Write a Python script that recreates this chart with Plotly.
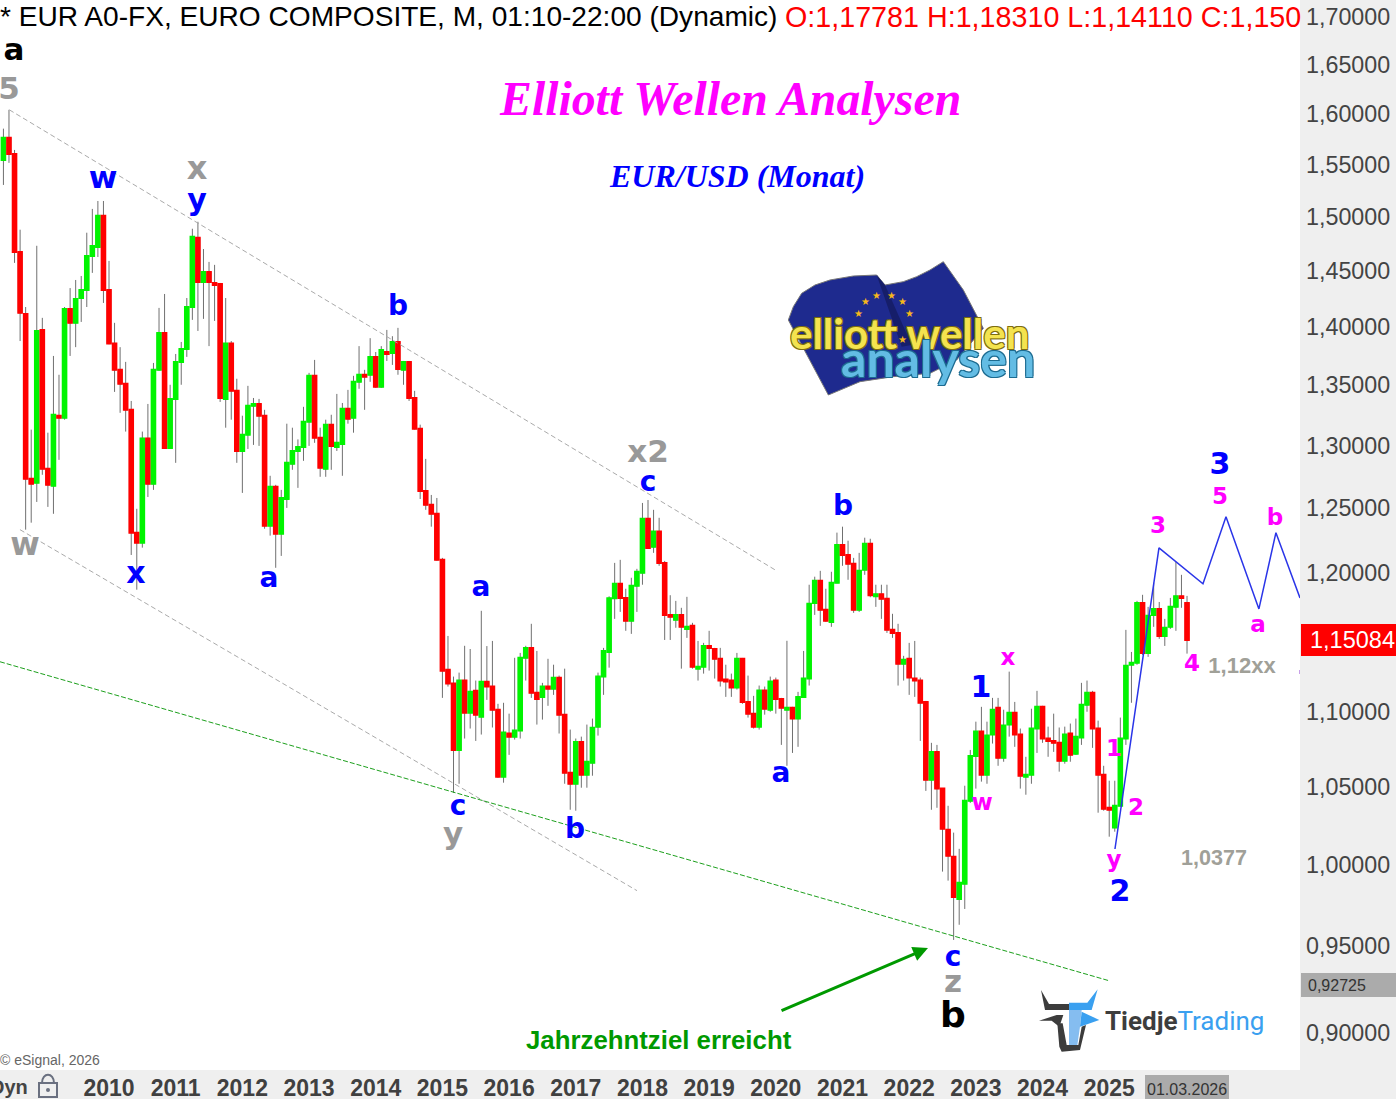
import math
import plotly.graph_objects as go

W, H = 1396, 1099
PW, PH = 1300, 1070

first_month = 2008 + 5 / 12
opens = [
1.5545,1.5763,1.5603,1.4674,1.4116,1.2731,1.2699,1.3975,1.2811,1.2675,1.3244,1.3227,
1.4160,1.4037,1.4257,1.4328,1.4637,1.4720,1.5010,1.4328,1.3857,1.3630,1.3511,1.3293,
1.2309,1.2232,1.3057,1.2691,1.3630,1.3949,1.2979,1.3384,1.3698,1.3809,1.4177,1.4805,
1.4401,1.4492,1.4392,1.4383,1.3384,1.3857,1.3452,1.2955,1.3088,1.3326,1.3342,1.3244,
1.2363,1.2667,1.2301,1.2571,1.2851,1.2955,1.2988,1.3195,1.3579,1.3063,1.2811,1.3170,
1.2988,1.3012,1.3301,1.3227,1.3528,1.3588,1.3588,1.3741,1.3486,1.3783,1.3775,1.3870,
1.3630,1.3698,1.3392,1.3137,1.2635,1.2525,1.2455,1.2101,1.1297,1.1199,1.0743,1.1220,
1.0997,1.1148,1.0969,1.1211,1.1178,1.1017,1.0565,1.0854,1.0833,1.0874,1.1381,1.1452,
1.1134,1.1106,1.1178,1.1163,1.1240,1.0983,1.0591,1.0518,1.0797,1.0578,1.0657,1.0901,
1.1248,1.1423,1.1813,1.1921,1.1816,1.1648,1.1906,1.2003,1.2417,1.2200,1.2317,1.2078,
1.1691,1.1655,1.1691,1.1589,1.1611,1.1304,1.1318,1.1466,1.1444,1.1374,1.1227,1.1220,
1.1171,1.1374,1.1071,1.0990,1.0901,1.1150,1.1017,1.1220,1.1092,1.1017,1.1031,1.0956,
1.1106,1.1234,1.1779,1.1944,1.1728,1.1640,1.1929,1.2214,1.2138,1.2071,1.1728,1.2026,
1.2224,1.1828,1.1843,1.1809,1.1582,1.1560,1.1339,1.1374,1.1234,1.1220,1.1071,1.0544,
1.0730,1.0486,1.0220,1.0048,0.9785,0.9880,1.0406,1.0703,1.0867,1.0578,1.0847,1.1031,
1.0690,1.0915,1.0997,1.0847,1.0565,1.0578,1.0888,1.1037,1.0820,1.0804,1.0791,1.0670,
1.0854,1.0717,1.0827,1.1051,1.1134,1.0888,1.0578,1.0361,1.0233,1.0374,1.0820,1.1332,
1.1346,1.1779,1.1416,1.1691,1.1735,1.1538,1.1604,1.1750,1.1828,1.17781,
]
highs = [
1.5852,1.6040,1.5642,1.4880,1.4177,1.3129,1.4731,1.4081,1.3104,1.3749,1.3588,1.4177,
1.4346,1.4419,1.4455,1.4852,1.5075,1.5150,1.5150,1.4592,1.4037,1.3825,1.3698,1.3367,
1.2494,1.3113,1.3342,1.3689,1.4169,1.4293,1.3503,1.3766,1.3870,1.4257,1.4889,1.4954,
1.4701,1.4583,1.4556,1.4392,1.4257,1.3878,1.3554,1.3244,1.3494,1.3392,1.3384,1.3293,
1.2755,1.2683,1.2643,1.3178,1.3145,1.3049,1.3318,1.3604,1.3715,1.3145,1.3211,1.3252,
1.3426,1.3350,1.3460,1.3579,1.3834,1.3630,1.3903,1.3783,1.3834,1.3975,1.3920,1.3993,
1.3706,1.3706,1.3452,1.3170,1.2891,1.2603,1.2579,1.2116,1.1538,1.1248,1.1276,1.1467,
1.1444,1.1220,1.1721,1.1465,1.1502,1.1058,1.1065,1.0990,1.1381,1.1416,1.1467,1.1626,
1.1430,1.1204,1.1374,1.1332,1.1255,1.1304,1.0881,1.0820,1.0833,1.0915,1.0956,1.1276,
1.1452,1.1828,1.2078,1.2101,1.1884,1.1966,1.2033,1.2540,1.2563,1.2486,1.2424,1.2093,
1.1836,1.1794,1.1743,1.1824,1.1633,1.1502,1.1488,1.1575,1.1452,1.1452,1.1332,1.1269,
1.1416,1.1380,1.1255,1.1113,1.1185,1.1178,1.1248,1.1241,1.1099,1.1503,1.1037,1.1141,
1.1430,1.1914,1.1974,1.2018,1.1884,1.2011,1.2309,1.2355,1.2247,1.2116,1.2154,1.2270,
1.2262,1.1914,1.1914,1.1914,1.1699,1.1626,1.1395,1.1488,1.1502,1.1241,1.1078,1.0791,
1.0777,1.0490,1.0374,1.0201,1.0098,1.0505,1.0743,1.0935,1.1037,1.0935,1.1099,1.1099,
1.1017,1.1283,1.1071,1.0888,1.0697,1.1024,1.1148,1.1044,1.0901,1.0990,1.0895,1.0901,
1.0922,1.0956,1.1204,1.1220,1.1148,1.0942,1.0637,1.0538,1.0538,1.0963,1.1582,1.1423,
1.1794,1.1839,1.1750,1.1929,1.1786,1.1662,1.1816,1.2086,1.1988,1.18310,
]
lows = [
1.5303,1.5516,1.4574,1.3878,1.2332,1.2386,1.2548,1.2763,1.2509,1.2455,1.2883,1.3211,
1.3749,1.3825,1.4045,1.4177,1.4483,1.4628,1.4213,1.3850,1.3443,1.3268,1.3113,1.2138,
1.1877,1.2194,1.2587,1.2643,1.3622,1.2971,1.2971,1.2859,1.3503,1.3741,1.4063,1.3966,
1.4072,1.3834,1.4054,1.3359,1.3145,1.3211,1.2859,1.2619,1.2971,1.3004,1.2996,1.2339,
1.2286,1.2041,1.2131,1.2501,1.2803,1.2659,1.2875,1.2996,1.3021,1.2747,1.2747,1.2803,
1.2955,1.2755,1.3178,1.3104,1.3469,1.3293,1.3528,1.3477,1.3477,1.3706,1.3672,1.3588,
1.3503,1.3367,1.3130,1.2571,1.2486,1.2355,1.2095,1.1099,1.1178,1.0458,1.0518,1.0820,
1.0888,1.0804,1.0847,1.1085,1.0895,1.0558,1.0525,1.0710,1.0813,1.0820,1.1220,1.1099,
1.0915,1.0949,1.1044,1.1120,1.0854,1.0518,1.0348,1.0342,1.0492,1.0492,1.0571,1.0840,
1.1120,1.1311,1.1662,1.1713,1.1575,1.1553,1.1713,1.1914,1.2184,1.2154,1.2056,1.1509,
1.1509,1.1597,1.1304,1.1524,1.1304,1.1220,1.1269,1.1290,1.1234,1.1178,1.1106,1.1106,
1.1157,1.1058,1.0963,1.0888,1.0881,1.0983,1.1003,1.0990,1.0777,1.0637,1.0723,1.0764,
1.1099,1.1185,1.1691,1.1611,1.1640,1.1604,1.1925,1.2056,1.1951,1.1706,1.1713,1.1988,
1.1821,1.1750,1.1662,1.1560,1.1524,1.1185,1.1220,1.1120,1.1106,1.0804,1.0471,1.0348,
1.0361,0.9955,0.9899,0.9538,0.9629,0.9725,1.0393,1.0486,1.0532,1.0518,1.0786,1.0637,
1.0664,1.0833,1.0764,1.0486,1.0446,1.0518,1.0723,1.0791,1.0697,1.0730,1.0598,1.0651,
1.0664,1.0710,1.0777,1.1003,1.0757,1.0329,1.0342,1.0175,1.0207,1.0370,1.0777,1.1065,
1.1332,1.1402,1.1388,1.1604,1.1517,1.1466,1.1589,1.1575,1.1743,1.14110,
]
closes = [
1.5763,1.5603,1.4674,1.4125,1.2731,1.2691,1.3966,1.2811,1.2683,1.3252,1.3227,1.4160,
1.4037,1.4248,1.4328,1.4637,1.4730,1.5010,1.4328,1.3857,1.3630,1.3511,1.3293,1.2309,
1.2232,1.3057,1.2691,1.3630,1.3949,1.2979,1.3384,1.3698,1.3809,1.4177,1.4815,1.4401,
1.4492,1.4401,1.4374,1.3392,1.3857,1.3452,1.2955,1.3088,1.3326,1.3342,1.3244,1.2363,
1.2667,1.2301,1.2579,1.2859,1.2955,1.2988,1.3195,1.3579,1.3063,1.2819,1.3170,1.2996,
1.3021,1.3301,1.3219,1.3528,1.3588,1.3571,1.3741,1.3486,1.3800,1.3766,1.3870,1.3638,
1.3698,1.3392,1.3137,1.2635,1.2525,1.2455,1.2101,1.1290,1.1199,1.0743,1.1220,1.0997,
1.1141,1.0983,1.1211,1.1178,1.1017,1.0565,1.0861,1.0833,1.0874,1.1381,1.1452,1.1134,
1.1092,1.1178,1.1163,1.1240,1.0983,1.0591,1.0518,1.0797,1.0578,1.0664,1.0893,1.1248,
1.1430,1.1813,1.1921,1.1816,1.1648,1.1906,1.2011,1.2417,1.2192,1.2317,1.2078,1.1691,
1.1677,1.1691,1.1604,1.1604,1.1318,1.1318,1.1466,1.1452,1.1374,1.1220,1.1213,1.1171,
1.1374,1.1071,1.0990,1.0901,1.1150,1.1024,1.1213,1.1092,1.1031,1.1031,1.0956,1.1106,
1.1234,1.1772,1.1944,1.1728,1.1648,1.1929,1.2214,1.2138,1.2071,1.1728,1.2018,1.2224,
1.1836,1.1843,1.1809,1.1582,1.1560,1.1339,1.1367,1.1241,1.1220,1.1065,1.0544,1.0730,
1.0486,1.0226,1.0054,0.9798,0.9886,1.0406,1.0703,1.0867,1.0578,1.0840,1.1017,1.0690,
1.0908,1.0997,1.0847,1.0571,1.0578,1.0888,1.1037,1.0820,1.0804,1.0791,1.0670,1.0847,
1.0710,1.0833,1.1051,1.1134,1.0888,1.0578,1.0354,1.0348,1.0374,1.0820,1.1325,1.1346,
1.1779,1.1416,1.1684,1.1735,1.1538,1.1597,1.1750,1.1828,1.1816,1.15084,
]

n = min(len(opens), len(highs), len(lows), len(closes))
years = [first_month + i / 12 for i in range(n)]

tick_years = list(range(2010, 2026))
price_ticks = [0.90, 0.95, 1.00, 1.05, 1.10, 1.20, 1.25, 1.30, 1.35, 1.40, 1.45, 1.50, 1.55, 1.60, 1.65, 1.70]
price_tick_text = ["0,90000", "0,95000", "1,00000", "1,05000", "1,10000", "1,20000", "1,25000", "1,30000",
                   "1,35000", "1,40000", "1,45000", "1,50000", "1,55000", "1,60000", "1,65000", "1,70000"]

upper_channel_x = [2008.505, 2019.987]
upper_channel_y = [1.6040, 1.2026]
lower_channel_x = [2008.665, 2017.918]
lower_channel_y = [1.2332, 0.9837]
green_line_x = [2008.365, 2025.011]
green_line_y = [1.1353, 0.9296]
forecast_x = [2025.086, 2025.746, 2026.406, 2026.751, 2027.245, 2027.500, 2027.861]
forecast_y = [1.0097, 1.2192, 1.1921, 1.2432, 1.1735, 1.2309, 1.1816]

BLUE, GREY, MAG, BLACK = "#0000FF", "#999999", "#FF00FF", "#000000"
label_text = ["a", "5", "w", "x", "y", "w", "x", "a", "b", "x2", "c", "a", "c", "y", "b", "a", "b", "1", "x", "w",
              "1", "2", "y", "2", "3", "3", "5", "b", "a", "4", "1,12xx", "1,0377", "c", "z", "b"]
label_year = [2008.575, 2008.500, 2009.910, 2011.320, 2011.320, 2008.740, 2010.405, 2012.399, 2014.334, 2018.083,
              2018.083, 2015.579, 2015.234, 2015.159, 2016.988, 2020.077, 2021.007, 2023.077, 2023.482, 2023.092,
              2025.071, 2025.401, 2025.071, 2025.161, 2025.731, 2026.661, 2026.661, 2027.486, 2027.230, 2026.241,
              2026.991, 2026.571, 2022.657, 2022.657, 2022.657]
label_price = [1.6630, 1.6226, 1.5350, 1.5435, 1.5135, 1.2197, 1.1986, 1.1949, 1.4165, 1.2930,
               1.2690, 1.1880, 1.0360, 1.0180, 1.0212, 1.0578, 1.2499, 1.1156, 1.1370, 1.0386,
               1.0744, 1.0350, 1.0020, 0.9818, 1.2353, 1.2826, 1.2578, 1.2415, 1.1606, 1.1326,
               1.1310, 1.0033, 0.9425, 0.9276, 0.9085]
label_color = [BLACK, GREY, BLUE, GREY, BLUE, GREY, BLUE, BLUE, BLUE, GREY,
               BLUE, BLUE, BLUE, GREY, BLUE, BLUE, BLUE, BLUE, MAG, MAG,
               MAG, MAG, MAG, BLUE, MAG, BLUE, MAG, MAG, MAG, MAG,
               "#A0A098", "#A0A098", BLUE, GREY, BLACK]
label_size = [31, 31, 31, 32, 30, 32, 30, 28, 28, 31,
              28, 28, 28, 31, 28, 28, 28, 30, 23, 23,
              23, 23, 23, 30, 23, 30, 23, 23, 23, 23,
              22, 21.5, 28, 31, 36]
label_font = ["DejaVu Sans"] * 30 + ["Liberation Sans", "Liberation Sans"] + ["DejaVu Sans"] * 3

fig = go.Figure()
up, down = "#00F400", "#FF0000"
wick = "#707070"
fig.add_trace(go.Candlestick(
    x=years, open=opens[:n], high=highs[:n], low=lows[:n], close=closes[:n],
    increasing=dict(line=dict(color=wick, width=1), fillcolor=wick),
    decreasing=dict(line=dict(color=wick, width=1), fillcolor=wick),
    whiskerwidth=0, hoverinfo="skip", showlegend=False))
fig.add_trace(go.Candlestick(
    x=years, open=opens[:n], close=closes[:n],
    high=[max(a, b) for a, b in zip(opens, closes)][:n],
    low=[min(a, b) for a, b in zip(opens, closes)][:n],
    increasing=dict(line=dict(color=up, width=2), fillcolor=up),
    decreasing=dict(line=dict(color=down, width=2), fillcolor=down),
    whiskerwidth=0, hoverinfo="skip", showlegend=False))

for xs, ys, color, width, dash in [
    (upper_channel_x, upper_channel_y, "#AAAAAA", 1, "5px,3px"),
    (lower_channel_x, lower_channel_y, "#AAAAAA", 1, "5px,3px"),
    (green_line_x, green_line_y, "#1DA01D", 1, "5px,2px"),
    (forecast_x, forecast_y, "#2A35E8", 1.5, "solid"),
]:
    fig.add_trace(go.Scatter(x=xs, y=ys, mode="lines", line=dict(color=color, width=width, dash=dash),
                             hoverinfo="skip", showlegend=False))

fig.add_trace(go.Scatter(
    x=label_year, y=label_price, mode="text",
    text=[f"<b>{t}</b>" for t in label_text], textposition="middle center",
    textfont=dict(family=label_font, size=label_size, color=label_color),
    hoverinfo="skip", showlegend=False, cliponaxis=False))


def px(x):
    return x / PW


def py(y):
    return 1 - y / PH


def note(x, y, text, size, color, family="Liberation Sans", anchor="center", **font):
    return dict(xref="paper", yref="paper", x=px(x), y=py(y), text=text, showarrow=False,
                xanchor=anchor, yanchor="middle", font=dict(family=family, size=size, color=color, **font))


annotations = [
    note(-2, 17, "* EUR A0-FX, EURO COMPOSITE, M, 01:10-22:00 (Dynamic)", 28.1, "#000000", anchor="left"),
    note(783, 17, "O:1,17781 H:1,18310 L:1,14110 C:1,150", 28.7, "#FF0000", anchor="left"),
    note(729.5, 98.5, "<b><i>Elliott Wellen Analysen</i></b>", 47.8, "#FF00FF", family="Liberation Serif"),
    note(737, 176.5, "<b><i>EUR/USD (Monat)</i></b>", 32, "#0000FF", family="Liberation Serif"),
    note(659, 1040, "<b>Jahrzehntziel erreicht</b>", 25.8, "#009900", family="Liberation Sans"),
    note(-2, 1060, "© eSignal, 2026", 14, "#666666", anchor="left"),
    note(30, 1087, "<b>Dyn</b>", 20, "#444444", anchor="right"),
    note(1353, 640, "1,15084", 23.5, "#FFFFFF"),
    note(1337, 985, "0,92725", 16, "#333333"),
    note(1187, 1089, "01.03.2026", 16, "#333333"),
    note(1103, 1021, '<b>Tiedje</b><span style="color:#3AA0F0">Trading</span>', 26, "#3D3D3D",
         family="Roboto", anchor="left"),
    note(910, 333, "<b>elliott wellen</b>", 42, "#F4E34F", family="Lato",
         shadow="-1px -1px 0 #7d6d10, 1px 1px 0 #7d6d10, 1px -1px 0 #7d6d10, -1px 1px 0 #7d6d10"),
    note(938, 358, "<b>analysen</b>", 50, "#63BCE4", family="Lato",
         shadow="-1px -1px 0 #1d6b90, 1px 1px 0 #1d6b90, 1px -1px 0 #1d6b90, -1px 1px 0 #1d6b90"),
    dict(xref="x", yref="y", axref="x", ayref="y", x=2022.282, y=math.log10(0.9490), ax=2020.063,
         ay=math.log10(0.9122), showarrow=True, arrowhead=2, arrowsize=1, arrowwidth=3,
         arrowcolor="#009900", text=""),
]
for sx, sy in [(285, 155), (320, 135), (365, 135), (398, 155), (420, 190), (265, 190), (398, 268)]:
    annotations.append(note(770 + sx / 3, 250 + sy / 3, "★", 10, "#F6B81A", family="DejaVu Sans"))


def poly(points, fill, line=None, ox=0, oy=0, scale=1):
    p = [(px(ox + a / scale), py(oy + b / scale)) for a, b in points]
    path = "M " + " L ".join(f"{a:.5f},{b:.5f}" for a, b in p) + " Z"
    return dict(type="path", xref="paper", yref="paper", path=path, fillcolor=fill,
                line=dict(color=line or fill, width=1 if line else 0))


def rect(x0, y0, x1, y1, fill):
    return dict(type="rect", xref="paper", yref="paper", x0=px(x0), x1=px(x1), y0=py(y0), y1=py(y1),
                fillcolor=fill, line=dict(width=0))


flag = [(55, 210), (70, 170), (95, 130), (135, 105), (180, 90), (250, 78), (320, 75), (345, 105), (400, 95),
        (440, 80), (480, 60), (520, 35), (580, 120), (640, 235), (560, 330), (480, 370), (370, 380), (270, 395),
        (175, 435)]
shapes = [
    rect(1301, 624, 1396, 656, "#FF0000"),
    rect(1301, 973, 1396, 997, "#ABABAB"),
    rect(1145, 1075, 1229, 1099, "#ABABAB"),
    rect(1299, 670, 1300, 674, "#C8A0E8"),
    poly(flag, "#1E2A8E", "#777777", 770, 250, 3),
    poly([(320, 75), (345, 105), (425, 285), (395, 290)], "#161E6A", None, 770, 250, 3),
    poly([(123, 90), (147, 132), (207, 132), (207, 150), (135, 150)], "#3C3C3C", None, 1000, 960, 3),
    poly([(207, 128), (262, 128), (293, 88), (275, 150), (207, 150)], "#3AA0F0", None, 1000, 960, 3),
    poly([(117, 182), (170, 165), (190, 165), (178, 200), (155, 182)], "#3C3C3C", None, 1000, 960, 3),
    poly([(207, 150), (245, 150), (240, 200), (232, 255), (207, 255)], "#85BDF0", None, 1000, 960, 3),
    poly([(245, 155), (298, 180), (255, 195), (240, 200)], "#3AA0F0", None, 1000, 960, 3),
    poly([(172, 190), (188, 190), (200, 255), (235, 255), (245, 200), (258, 195), (240, 270), (185, 275), (178, 260)],
         "#3C3C3C", None, 1000, 960, 3),
    dict(type="rect", xref="paper", yref="paper", x0=px(39), x1=px(57), y0=py(1097), y1=py(1083),
         line=dict(color="#6A7080", width=2)),
    dict(type="path", xref="paper", yref="paper",
         path=f"M {px(42):.5f},{py(1083):.5f} C {px(42):.5f},{py(1072):.5f} {px(54):.5f},{py(1072):.5f} {px(54):.5f},{py(1083):.5f}",
         line=dict(color="#6A7080", width=2)),
    dict(type="circle", xref="paper", yref="paper", x0=px(46), x1=px(50), y0=py(1092), y1=py(1088),
         fillcolor="#6A7080", line=dict(width=0)),
]

fig.update_layout(
    width=W, height=H, margin=dict(l=0, r=96, t=0, b=29, pad=0, autoexpand=False),
    paper_bgcolor="#EFEFEF", plot_bgcolor="#FFFFFF", showlegend=False, boxgap=0.35, boxgroupgap=0,
    annotations=annotations, shapes=shapes,
    xaxis=dict(range=[2008.3653, 2027.861], rangeslider=dict(visible=False), showgrid=False, zeroline=False,
               showline=False, tickmode="array", tickvals=tick_years,
               ticktext=[f"<b>{y}</b>" for y in tick_years], ticks="", ticklabelstandoff=2,
               tickfont=dict(family="Liberation Sans", size=23, color="#404040")),
    yaxis=dict(type="log", range=[-0.05591, 0.23507], side="right", showgrid=False, zeroline=False,
               showline=False, tickmode="array", tickvals=price_ticks, ticktext=price_tick_text,
               ticks="", ticklabelstandoff=5,
               tickfont=dict(family="Liberation Sans", size=23.3, color="#444444")),
)
fig.write_html("out.html", config=dict(displayModeBar=False),
               post_script="document.body.style.margin='0';document.body.style.overflow='hidden';")
